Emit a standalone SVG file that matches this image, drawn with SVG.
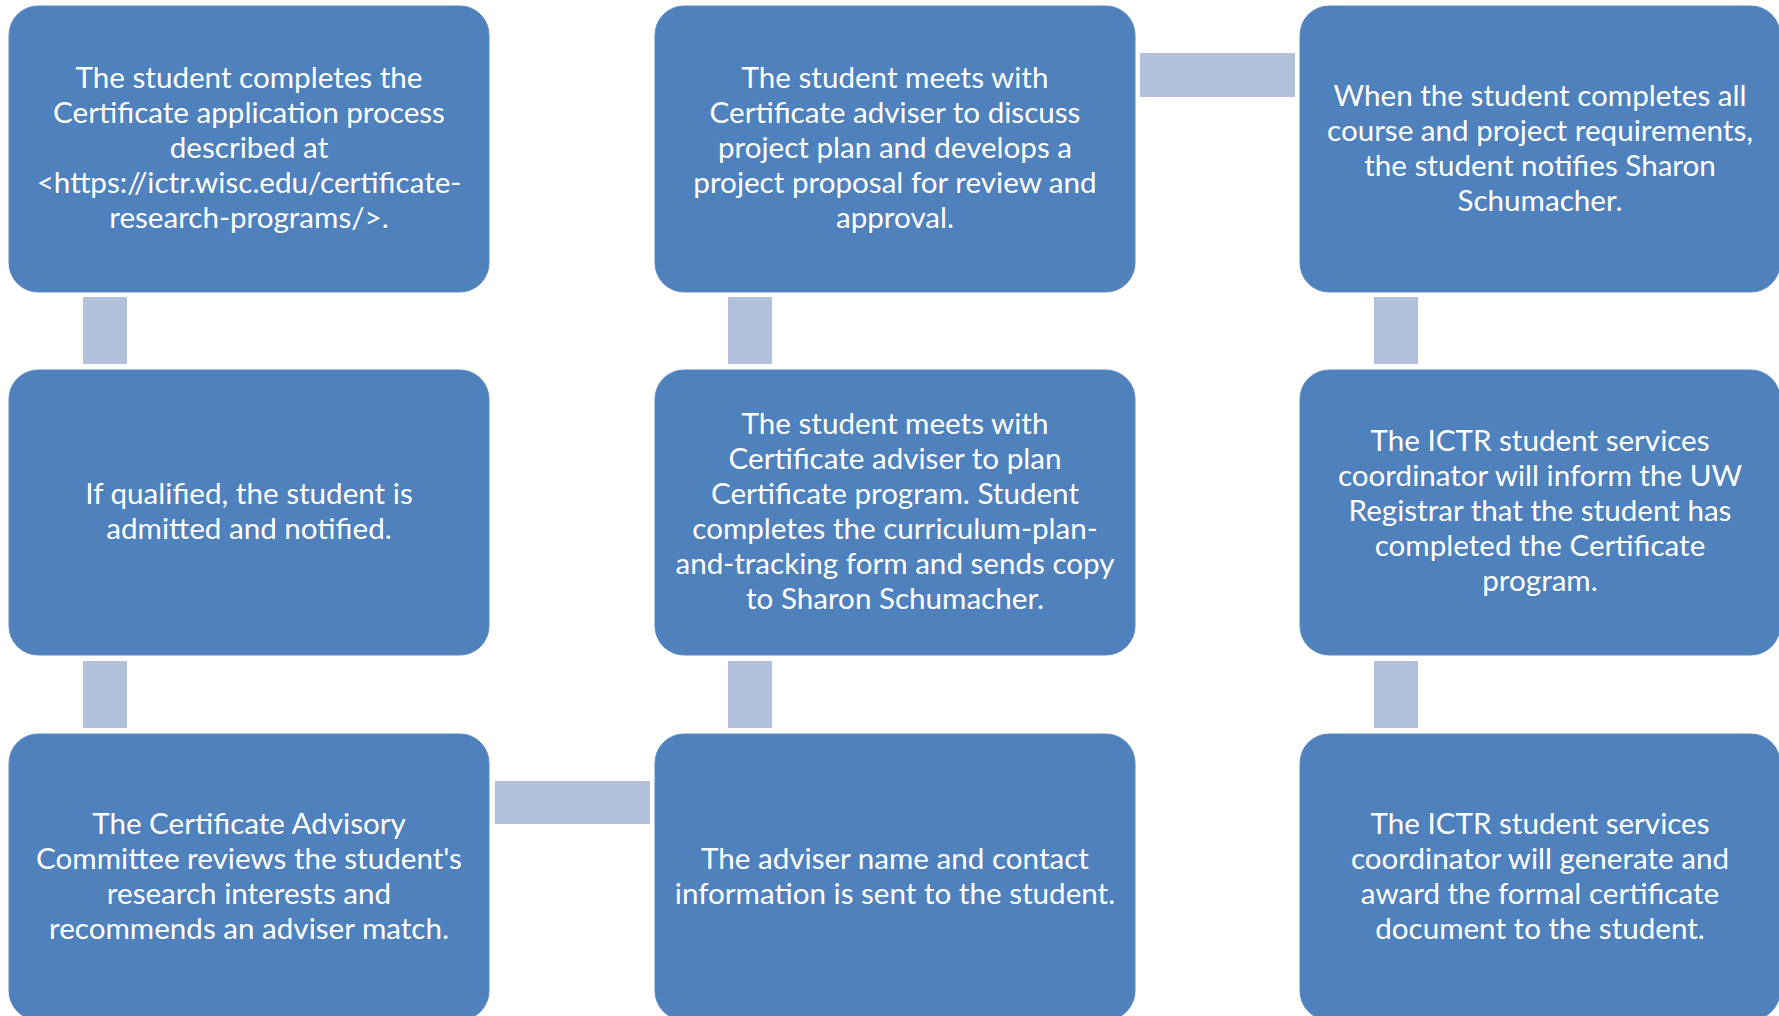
<svg xmlns="http://www.w3.org/2000/svg" width="1779" height="1016" viewBox="0 0 1779 1016">
<style>
.box{fill:#4F81BD;stroke:#5B8AC4;stroke-width:1}
.con{fill:#B2C1DB}
.t{font-family:Lato,"Liberation Sans",sans-serif;font-size:29.6px;fill:#FFFFFF;text-anchor:middle}
</style>
<rect width="1779" height="1016" fill="#FFFFFF"/>
<g id="connectors">
<rect class="con" x="83" y="297" width="44" height="67"/>
<rect class="con" x="83" y="661" width="44" height="67"/>
<rect class="con" x="495" y="781" width="155" height="43"/>
<rect class="con" x="728" y="661" width="44" height="67"/>
<rect class="con" x="728" y="297" width="44" height="67"/>
<rect class="con" x="1140" y="53" width="155" height="44"/>
<rect class="con" x="1374" y="297" width="44" height="67"/>
<rect class="con" x="1374" y="661" width="44" height="67"/>
</g>
<g id="n1">
<rect class="box" x="9" y="6" width="480" height="286" rx="29"/>
<text class="t"><tspan x="249" y="88">The student completes the</tspan><tspan x="249" y="123">Certificate application process</tspan><tspan x="249" y="158">described at</tspan><tspan x="249" y="193">&lt;https://ictr.wisc.edu/certificate-</tspan><tspan x="249" y="228">research-programs/&gt;.</tspan></text>
</g>
<g id="n2">
<rect class="box" x="9" y="370" width="480" height="285" rx="29"/>
<text class="t"><tspan x="249" y="503.5">If qualified, the student is</tspan><tspan x="249" y="538.5">admitted and notified.</tspan></text>
</g>
<g id="n3">
<rect class="box" x="9" y="734" width="480" height="286" rx="29"/>
<text class="t"><tspan x="249" y="833.5">The Certificate Advisory</tspan><tspan x="249" y="868.5">Committee reviews the student's</tspan><tspan x="249" y="903.5">research interests and</tspan><tspan x="249" y="938.5">recommends an adviser match.</tspan></text>
</g>
<g id="n4">
<rect class="box" x="655" y="734" width="480" height="286" rx="29"/>
<text class="t"><tspan x="895" y="868.5">The adviser name and contact</tspan><tspan x="895" y="903.5">information is sent to the student.</tspan></text>
</g>
<g id="n5">
<rect class="box" x="655" y="370" width="480" height="285" rx="29"/>
<text class="t"><tspan x="895" y="433.5">The student meets with</tspan><tspan x="895" y="468.5">Certificate adviser to plan</tspan><tspan x="895" y="503.5">Certificate program. Student</tspan><tspan x="895" y="538.5">completes the curriculum-plan-</tspan><tspan x="895" y="573.5">and-tracking form and sends copy</tspan><tspan x="895" y="608.5">to Sharon Schumacher.</tspan></text>
</g>
<g id="n6">
<rect class="box" x="655" y="6" width="480" height="286" rx="29"/>
<text class="t"><tspan x="895" y="88">The student meets with</tspan><tspan x="895" y="123">Certificate adviser to discuss</tspan><tspan x="895" y="158">project plan and develops a</tspan><tspan x="895" y="193">project proposal for review and</tspan><tspan x="895" y="228">approval.</tspan></text>
</g>
<g id="n7">
<rect class="box" x="1300" y="6" width="480" height="286" rx="29"/>
<text class="t"><tspan x="1540" y="105.5">When the student completes all</tspan><tspan x="1540" y="140.5">course and project requirements,</tspan><tspan x="1540" y="175.5">the student notifies Sharon</tspan><tspan x="1540" y="210.5">Schumacher.</tspan></text>
</g>
<g id="n8">
<rect class="box" x="1300" y="370" width="480" height="285" rx="29"/>
<text class="t"><tspan x="1540" y="451">The ICTR student services</tspan><tspan x="1540" y="486">coordinator will inform the UW</tspan><tspan x="1540" y="521">Registrar that the student has</tspan><tspan x="1540" y="556">completed the Certificate</tspan><tspan x="1540" y="591">program.</tspan></text>
</g>
<g id="n9">
<rect class="box" x="1300" y="734" width="480" height="286" rx="29"/>
<text class="t"><tspan x="1540" y="833.5">The ICTR student services</tspan><tspan x="1540" y="868.5">coordinator will generate and</tspan><tspan x="1540" y="903.5">award the formal certificate</tspan><tspan x="1540" y="938.5">document to the student.</tspan></text>
</g>
</svg>
